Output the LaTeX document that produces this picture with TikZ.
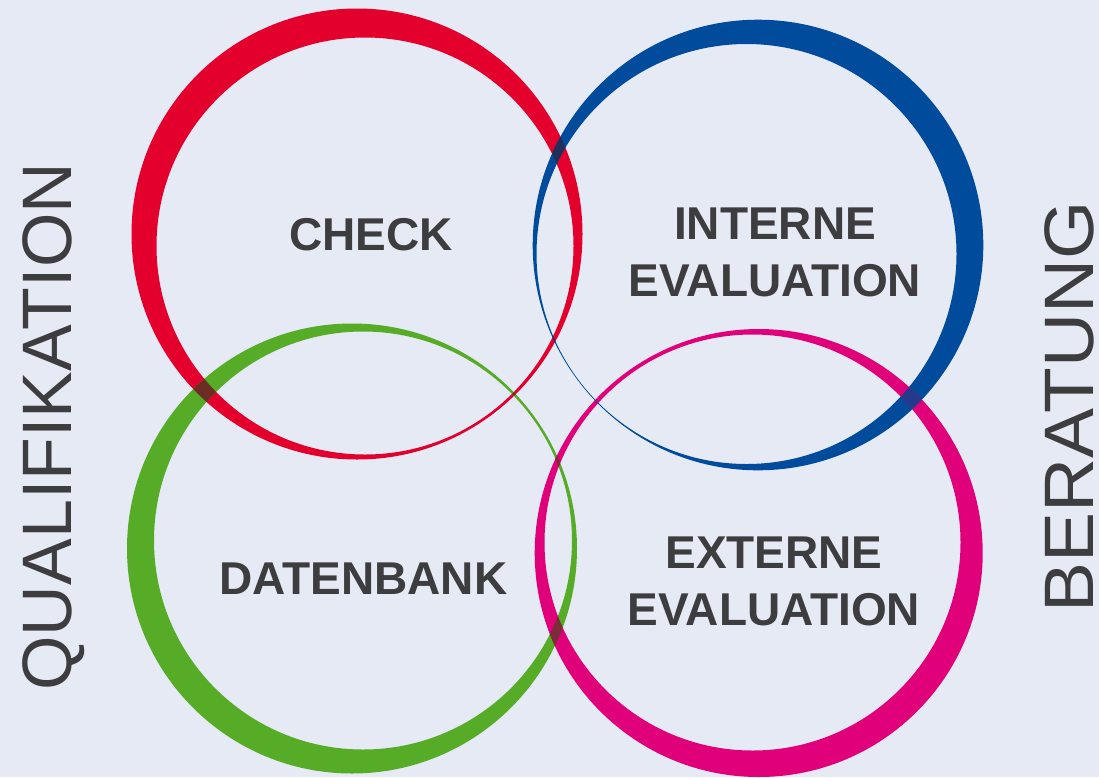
\documentclass[tikz,border=0pt]{standalone}
\usepackage{fontspec}
\setmainfont{Liberation Sans}
\definecolor{bgc}{HTML}{E5EAF5}
\definecolor{ringred}{HTML}{E3002D}
\definecolor{ringblue}{HTML}{004B9B}
\definecolor{ringgreen}{HTML}{56AC27}
\definecolor{ringmag}{HTML}{E0007A}
\definecolor{ovrb}{HTML}{1F2F57}
\definecolor{ovrg}{HTML}{6C2D24}
\definecolor{ovbm}{HTML}{253A8A}
\definecolor{ovgm}{HTML}{7B2C36}
\definecolor{txt}{HTML}{3D3D40}
\newcommand\myRedRing{(357,234) circle[radius=225.5pt] (365,246) circle[radius=208.5pt]}
\newcommand\myBlueRing{(758,245) circle[radius=225.3pt] (746.5,254) circle[radius=210pt]}
\newcommand\myGreenRing{(352,548.5) circle[radius=225pt] (363,540.5) circle[radius=209pt]}
\newcommand\myMagRing{(758.7,553) circle[radius=224pt] (752.5,542.5) circle[radius=208pt]}
\tikzset{
  ring/.style={even odd rule},
  boxtext/.style={text=txt, font=\fontsize{46}{57}\selectfont\bfseries, align=center, inner sep=0pt},
  sidetext/.style={text=txt, font=\fontsize{70}{80}\selectfont, rotate=90, anchor=base, inner sep=0pt}
}
\begin{document}
\begin{tikzpicture}[x=1pt,y=-1pt]
\fill[bgc] (0,0) rectangle (1099,777);
\useasboundingbox (0,0) rectangle (1099,777);
% rings
\fill[ringred, ring] \myRedRing;
\fill[ringblue, ring] \myBlueRing;
\fill[ringgreen, ring] \myGreenRing;
\fill[ringmag, ring] \myMagRing;
% overlaps
\begin{scope}[ring]\clip \myRedRing; \fill[ovrb] \myBlueRing; \end{scope}
\begin{scope}[ring]\clip \myRedRing; \fill[ovrg] \myGreenRing; \end{scope}
\begin{scope}[ring]\clip \myBlueRing; \fill[ovbm] \myMagRing; \end{scope}
\begin{scope}[ring]\clip \myGreenRing; \fill[ovgm] \myMagRing; \end{scope}
% texts
\node[boxtext] (check) at (371,235) {CHECK};
\node[boxtext] (interne) at (775,252.2) {INTERNE\\EVALUATION};
\node[boxtext] (datenbank) at (363.3,578.9) {DATENBANK};
\node[boxtext] (externe) at (774,581.5) {EXTERNE\\EVALUATION};
\node[sidetext] (quali) at (71.7,426.7) {QUALIFIKATION};
\node[sidetext, xscale=1.07] (beratung) at (1093,406.7) {BERATUNG};
\end{tikzpicture}
\end{document}
